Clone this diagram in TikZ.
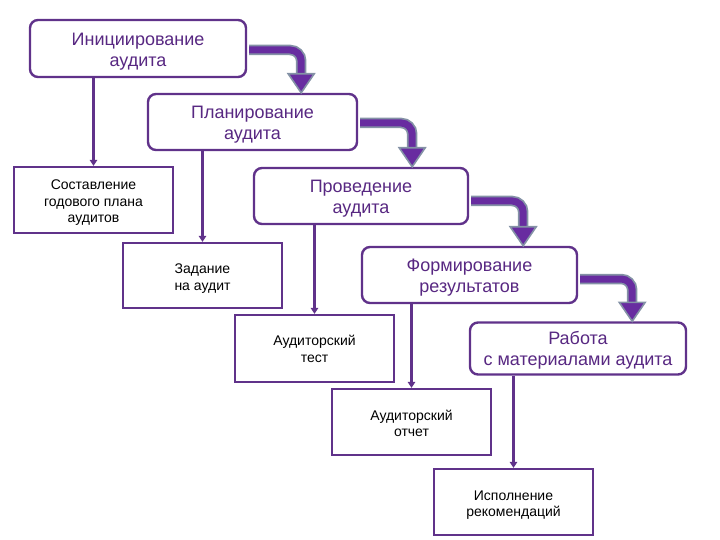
\documentclass[tikz,border=0pt]{standalone}
\usepackage{fontspec}
\setmainfont{Liberation Sans}
\usetikzlibrary{calc,arrows.meta}
\definecolor{boxc}{RGB}{96,50,138}
\definecolor{txtc}{RGB}{88,40,130}
\definecolor{arrc}{RGB}{104,44,160}
\definecolor{arrg}{RGB}{132,146,166}
\newcommand\lowtext[2]{\raisebox{-#1}[\height][\depth]{\begin{tabular}{@{}c@{}}#2\end{tabular}}}
\tikzset{
  stage/.style={draw=boxc, line width=2.4pt, rounded corners=8pt, fill=white,
    text=txtc, inner sep=0pt,
    font=\fontsize{18}{21}\selectfont},
  task/.style={draw=boxc, line width=2.2pt, fill=white, text=black,
    inner sep=0pt, minimum width=159pt,
    font=\fontsize{14}{16.5}\selectfont},
  conn/.style={draw=boxc, line width=2.3pt, -{Triangle[width=7.5pt,length=6pt]}},
  shaftout/.style={draw=arrg, line width=10.5pt, rounded corners=11pt},
  shaftin/.style={draw=arrc, line width=7pt, rounded corners=11pt},
  headst/.style={fill=arrc, draw=arrg, line width=1.6pt, line join=miter},
}
\begin{document}
\begin{tikzpicture}[x=1pt,y=-1pt]
\useasboundingbox (0,0) rectangle (720,540);
% stages
\node[stage, minimum width=216pt, minimum height=57pt] (b1) at (138,48.5) {\lowtext{3pt}{Инициирование\\аудита}};
\node[stage, minimum width=209pt, minimum height=56pt] (b2) at (252.5,122) {\lowtext{3pt}{Планирование\\аудита}};
\node[stage, minimum width=214pt, minimum height=56pt] (b3) at (361,196) {\lowtext{3pt}{Проведение\\аудита}};
\node[stage, minimum width=215pt, minimum height=56pt] (b4) at (469.5,275) {\lowtext{3pt}{Формирование\\результатов}};
\node[stage, minimum width=216pt, minimum height=52pt] (b5) at (578,348.5) {\lowtext{2pt}{Работа\\с материалами аудита}};
% tasks
\node[task, minimum height=66pt] (ta) at (93.5,200) {\lowtext{3pt}{Составление\\годового плана\\аудитов}};
\node[task, minimum height=65pt] (tb) at (202.5,275.5) {\lowtext{3pt}{Задание\\на аудит}};
\node[task, minimum height=67pt] (tc) at (314.5,348.5) {\lowtext{2pt}{Аудиторский\\тест}};
\node[task, minimum height=66pt] (td) at (411.5,422) {\lowtext{3pt}{Аудиторский\\отчет}};
\node[task, minimum height=66pt] (te) at (513.5,502) {\lowtext{3pt}{Исполнение\\рекомендаций}};
% vertical connectors
\draw[conn] (ta.north |- b1.south) -- (ta.north);
\draw[conn] (tb.north |- b2.south) -- (tb.north);
\draw[conn] (tc.north |- b3.south) -- (tc.north);
\draw[conn] (td.north |- b4.south) -- (td.north);
\draw[conn] (te.north |- b5.south) -- (te.north);
% thick curved arrows
\foreach \a/\b/\dy in {b1/b2/1.5,b2/b3/1,b3/b4/5,b4/b5/4} {
  \coordinate (s\a) at ($(\a.east)+(2,\dy)$);
  \coordinate (v\a) at ($(\a.east)+(54,0)$);
  \coordinate (tip\a) at (v\a |- \b.north);
  \coordinate (ht\a) at ($(tip\a)+(0,-19)$);
  \draw[shaftout] (s\a) -| (ht\a);
  \draw[shaftin] (s\a) -| (ht\a);
  \filldraw[headst] ($(ht\a)+(-13,0)$) -- ($(ht\a)+(13,0)$) -- (tip\a) -- cycle;
}
\end{tikzpicture}
\end{document}
